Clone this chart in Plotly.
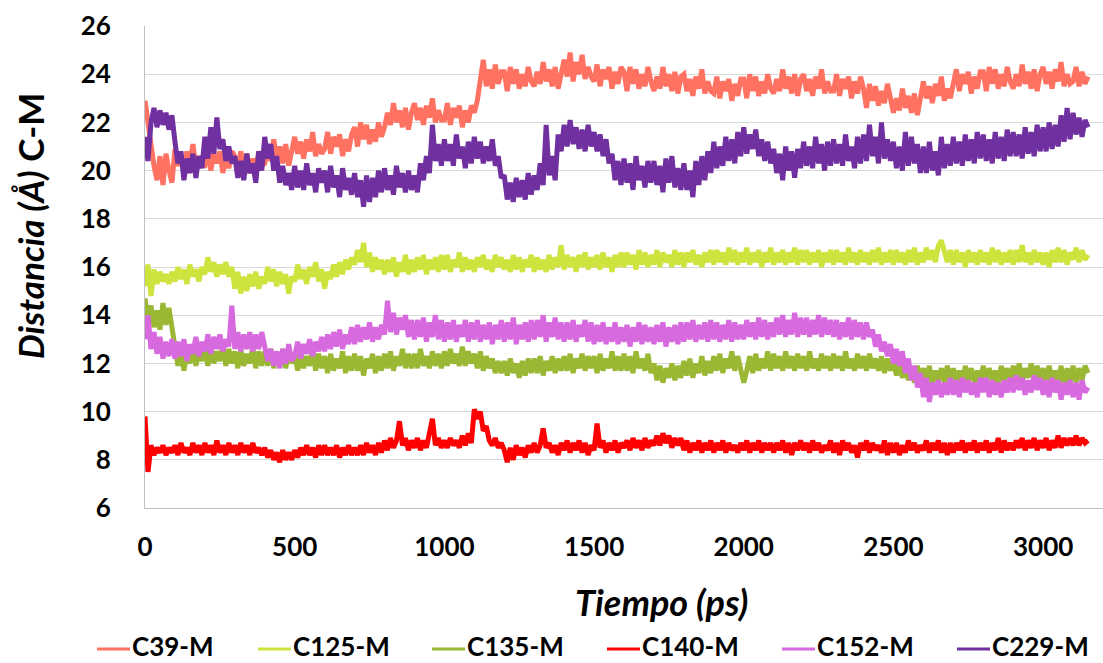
import plotly.graph_objects as go

# ---------------- data ----------------
step_ps = 10
n_points = 316
tiempo = [i * step_ps for i in range(n_points)]  # sampling grid 0 .. 3150 ps

c39 = [
    22.9, 22.0, 20.8, 20.2, 19.6, 20.6, 19.4, 20.7, 20.0, 19.5,
    20.9, 20.2, 20.7, 20.0, 20.8, 20.3, 21.1, 20.1, 20.6, 20.2,
    20.2, 20.9, 20.0, 20.7, 20.3, 20.8, 19.9, 20.6, 20.1, 20.8,
    20.6, 19.8, 20.8, 20.1, 20.7, 19.9, 20.5, 20.0, 20.8, 20.2,
    20.3, 20.9, 20.4, 21.3, 20.5, 21.0, 20.3, 21.1, 20.2, 20.9,
    21.4, 20.7, 21.2, 20.5, 21.3, 20.8, 21.6, 20.6, 21.1, 20.7,
    20.9, 21.6, 20.7, 21.4, 21.0, 21.5, 20.6, 21.3, 20.8, 21.5,
    21.8, 21.0, 22.0, 21.3, 21.9, 21.1, 21.7, 21.2, 22.0, 21.4,
    21.8, 22.4, 21.9, 22.8, 22.0, 22.5, 21.8, 22.6, 21.7, 22.4,
    22.8, 22.1, 22.6, 21.9, 22.7, 22.2, 23.0, 22.0, 22.5, 22.1,
    22.1, 22.8, 21.9, 22.6, 22.2, 22.7, 21.8, 22.5, 22.0, 22.7,
    22.4, 22.9, 23.9, 24.6, 23.5, 24.2, 23.4, 24.4, 23.6, 24.1,
    24.1, 23.3, 24.3, 23.6, 24.2, 23.4, 24.0, 23.5, 24.3, 23.7,
    23.5, 24.1, 23.6, 24.5, 23.7, 24.2, 23.5, 24.3, 23.4, 24.1,
    24.6, 23.9, 24.9, 23.7, 24.5, 24.0, 24.8, 23.8, 24.3, 23.9,
    23.7, 24.4, 23.5, 24.2, 23.8, 24.3, 23.4, 24.1, 23.6, 24.3,
    24.1, 23.3, 24.3, 23.6, 24.2, 23.4, 24.0, 23.5, 24.3, 23.7,
    23.3, 23.9, 23.4, 24.3, 23.5, 24.0, 23.3, 24.1, 23.2, 23.9,
    24.0, 23.3, 23.8, 23.1, 23.9, 23.4, 24.2, 23.2, 23.7, 23.3,
    23.2, 23.9, 23.0, 23.7, 23.3, 23.8, 22.9, 23.6, 23.1, 23.8,
    23.8, 23.0, 24.0, 23.3, 23.9, 23.1, 23.7, 23.2, 24.0, 23.4,
    23.2, 23.8, 23.3, 24.2, 23.4, 23.9, 23.2, 24.0, 23.1, 23.8,
    24.0, 23.3, 23.8, 23.1, 23.9, 23.4, 24.2, 23.2, 23.7, 23.3,
    23.3, 24.0, 23.1, 23.8, 23.4, 23.9, 23.0, 23.7, 23.2, 23.9,
    23.4, 22.6, 23.6, 22.9, 23.5, 22.7, 23.3, 22.8, 23.6, 23.0,
    22.4, 23.0, 22.5, 23.4, 22.6, 23.1, 22.4, 23.2, 22.3, 23.0,
    23.7, 23.0, 23.5, 22.8, 23.6, 23.1, 23.9, 22.9, 23.4, 23.0,
    23.5, 24.2, 23.3, 24.0, 23.6, 24.1, 23.2, 23.9, 23.4, 24.1,
    24.1, 23.3, 24.3, 23.6, 24.2, 23.4, 24.0, 23.5, 24.3, 23.7,
    23.4, 24.0, 23.5, 24.4, 23.6, 24.1, 23.4, 24.2, 23.3, 24.0,
    24.3, 23.6, 24.1, 23.4, 24.2, 23.7, 24.5, 23.5, 24.0, 23.6,
    23.7, 24.3, 23.5, 24.1, 23.6, 23.9,
]

c125 = [
    15.2, 16.1, 14.8, 15.9, 15.3, 15.8, 15.4, 15.7, 15.3, 15.8,
    15.4, 16.0, 15.5, 15.9, 15.3, 16.1, 15.6, 15.9, 15.4, 16.0,
    15.7, 16.4, 15.8, 16.2, 15.6, 16.1, 15.7, 16.2, 15.6, 16.0,
    15.1, 15.8, 14.9, 15.6, 15.0, 15.7, 15.2, 15.8, 15.1, 15.6,
    15.3, 16.0, 15.4, 15.9, 15.2, 15.8, 15.3, 15.7, 14.9, 15.6,
    15.4, 16.1, 15.5, 15.9, 15.3, 16.0, 15.6, 16.2, 15.4, 15.9,
    15.1, 15.8, 15.5, 16.1, 15.6, 16.2, 15.7, 16.3, 15.9, 16.4,
    16.1, 16.7, 16.2, 17.0, 16.0, 16.6, 15.8, 16.4, 15.9, 16.3,
    15.7, 16.3, 15.8, 16.4, 15.6, 16.2, 15.8, 16.5, 15.7, 16.3,
    15.8, 16.4, 15.9, 16.5, 15.7, 16.3, 15.9, 16.4, 15.8, 16.5,
    15.9, 16.5, 15.8, 16.3, 16.0, 16.6, 15.8, 16.4, 15.9, 16.3,
    15.8, 16.4, 16.0, 16.5, 15.9, 16.3, 15.8, 16.5, 16.0, 16.4,
    15.9, 16.3, 15.8, 16.5, 15.9, 16.4, 15.8, 16.3, 16.0, 16.5,
    15.8, 16.4, 15.9, 16.3, 15.8, 16.5, 15.9, 16.4, 16.0, 16.9,
    15.9, 16.5, 16.0, 16.4, 15.8, 16.5, 16.0, 16.6, 15.9, 16.4,
    16.0, 16.5, 15.9, 16.6, 16.0, 16.4, 15.8, 16.5, 16.0, 16.6,
    16.0, 16.6, 16.1, 16.5, 15.9, 16.7, 16.1, 16.6, 16.0, 16.5,
    16.1, 16.7, 16.0, 16.6, 16.2, 16.5, 16.0, 16.7, 16.1, 16.6,
    16.0, 16.6, 16.2, 16.7, 16.1, 16.5, 16.0, 16.6, 16.2, 16.7,
    16.1, 16.7, 16.2, 16.6, 16.1, 16.8, 16.2, 16.7, 16.1, 16.6,
    16.2, 16.8, 16.1, 16.6, 16.2, 16.7, 16.0, 16.6, 16.2, 16.8,
    16.1, 16.6, 16.2, 16.7, 16.1, 16.6, 16.2, 16.8, 16.1, 16.7,
    16.2, 16.7, 16.1, 16.6, 16.2, 16.7, 16.0, 16.6, 16.2, 16.7,
    16.1, 16.7, 16.2, 16.6, 16.1, 16.8, 16.2, 16.6, 16.1, 16.7,
    16.2, 16.6, 16.1, 16.7, 16.2, 16.8, 16.1, 16.6, 16.2, 16.7,
    16.1, 16.7, 16.2, 16.6, 16.1, 16.7, 16.2, 16.8, 16.1, 16.6,
    16.2, 16.8, 16.3, 16.7, 16.2, 16.9, 17.1, 16.6, 16.2, 16.7,
    16.1, 16.7, 16.2, 16.6, 16.0, 16.7, 16.2, 16.6, 16.1, 16.7,
    16.2, 16.6, 16.1, 16.8, 16.2, 16.7, 16.1, 16.6, 16.2, 16.7,
    16.1, 16.7, 16.2, 16.9, 16.2, 16.6, 16.1, 16.7, 16.2, 16.6,
    16.1, 16.6, 16.0, 16.7, 16.2, 16.8, 16.2, 16.7, 16.1, 16.6,
    16.3, 16.8, 16.2, 16.7, 16.3, 16.5,
]

c135 = [
    14.7, 13.8, 14.4, 13.5, 14.2, 13.4, 14.5, 13.6, 14.3, 13.5,
    12.6, 11.9, 12.5, 11.7, 12.4, 12.0, 12.7, 11.9, 12.5, 12.1,
    12.6, 11.9, 12.7, 12.0, 12.5, 12.1, 12.8, 11.9, 12.6, 12.0,
    12.5, 11.8, 12.6, 11.9, 12.4, 12.0, 12.7, 11.8, 12.5, 11.9,
    12.5, 11.9, 12.6, 11.8, 12.4, 11.9, 12.6, 11.8, 12.5, 12.0,
    12.4, 11.7, 12.5, 11.8, 12.3, 11.9, 12.6, 11.7, 12.4, 11.8,
    12.3, 11.6, 12.4, 11.7, 12.2, 11.8, 12.5, 11.6, 12.3, 11.7,
    12.4, 11.7, 12.3, 11.5, 12.2, 11.8, 12.4, 11.6, 12.3, 11.7,
    12.4, 11.8, 12.5, 11.7, 12.3, 11.9, 12.6, 11.8, 12.4, 11.8,
    12.4, 11.8, 12.6, 11.9, 12.3, 11.8, 12.5, 11.9, 12.4, 11.8,
    12.5, 11.9, 12.6, 12.0, 12.4, 11.9, 12.7, 11.9, 12.5, 12.0,
    12.4, 11.8, 12.5, 11.7, 12.3, 11.8, 12.2, 11.6, 12.1, 11.6,
    12.1, 11.5, 12.2, 11.6, 12.0, 11.4, 12.1, 11.5, 12.2, 11.6,
    12.2, 11.6, 12.3, 11.5, 12.1, 11.7, 12.3, 11.6, 12.2, 11.7,
    12.3, 11.7, 12.4, 11.6, 12.2, 11.8, 12.4, 11.7, 12.3, 11.8,
    12.3, 11.6, 12.4, 11.7, 12.2, 11.8, 12.5, 11.7, 12.3, 11.7,
    12.4, 11.7, 12.3, 11.6, 12.5, 11.8, 12.2, 11.7, 12.4, 11.6,
    12.0, 11.3, 11.9, 11.2, 11.8, 11.4, 12.0, 11.3, 11.9, 11.4,
    12.1, 11.5, 12.2, 11.4, 12.0, 11.6, 12.3, 11.5, 12.1, 11.6,
    12.3, 11.7, 12.4, 11.6, 12.2, 11.8, 12.5, 11.7, 12.3, 11.7,
    11.2, 11.7, 12.3, 11.6, 12.4, 11.7, 12.2, 11.8, 12.5, 11.7,
    12.4, 11.8, 12.3, 11.7, 12.5, 11.8, 12.3, 11.7, 12.4, 11.8,
    12.3, 11.7, 12.5, 11.8, 12.2, 11.7, 12.4, 11.8, 12.3, 11.7,
    12.4, 11.8, 12.3, 11.7, 12.5, 11.8, 12.2, 11.7, 12.4, 11.8,
    12.3, 11.7, 12.4, 11.8, 12.2, 11.7, 12.3, 11.6, 12.2, 11.7,
    12.1, 11.5, 12.0, 11.4, 11.9, 11.3, 11.8, 11.2, 11.9, 11.3,
    11.8, 11.2, 11.9, 11.1, 11.7, 11.3, 11.8, 11.2, 11.9, 11.2,
    11.8, 11.2, 11.7, 11.1, 11.9, 11.3, 11.8, 11.2, 11.7, 11.2,
    11.9, 11.2, 11.8, 11.3, 11.7, 11.1, 11.9, 11.3, 11.8, 11.2,
    11.9, 11.3, 12.0, 11.2, 11.8, 11.4, 12.0, 11.3, 11.9, 11.3,
    11.8, 11.2, 11.9, 11.3, 11.7, 11.2, 11.9, 11.1, 11.8, 11.2,
    11.9, 11.2, 11.8, 11.3, 11.9, 11.6,
]

c140 = [
    9.8, 7.5, 8.6, 8.2, 8.5, 8.3, 8.6, 8.2, 8.5, 8.3,
    8.6, 8.2, 8.7, 8.3, 8.5, 8.2, 8.7, 8.3, 8.6, 8.2,
    8.7, 8.3, 8.6, 8.2, 8.8, 8.3, 8.6, 8.2, 8.7, 8.3,
    8.6, 8.2, 8.7, 8.3, 8.6, 8.2, 8.7, 8.3, 8.5, 8.2,
    8.5, 8.1, 8.4, 8.0, 8.3, 7.9, 8.4, 8.0, 8.3, 8.0,
    8.4, 8.1, 8.5, 8.2, 8.6, 8.2, 8.5, 8.1, 8.6, 8.2,
    8.6, 8.2, 8.5, 8.2, 8.6, 8.1, 8.5, 8.2, 8.6, 8.2,
    8.5, 8.2, 8.6, 8.2, 8.7, 8.3, 8.6, 8.2, 8.7, 8.3,
    8.8, 8.4, 8.9, 8.5, 8.8, 9.6, 8.6, 8.9, 8.4, 8.8,
    8.5, 8.9, 8.4, 8.8, 8.5, 9.0, 9.7, 8.6, 8.9, 8.5,
    8.8, 8.5, 8.9, 8.6, 8.8, 8.5, 9.0, 8.6, 9.1, 8.7,
    10.1, 9.7, 10.0, 9.2, 9.4, 8.8, 8.6, 8.9, 8.5, 8.7,
    8.4, 7.9, 8.5, 8.0, 8.6, 8.2, 8.5, 8.1, 8.6, 8.3,
    8.7, 8.3, 8.6, 9.3, 8.5, 8.7, 8.3, 8.6, 8.2, 8.7,
    8.4, 8.8, 8.3, 8.7, 8.4, 8.8, 8.3, 8.7, 8.2, 8.6,
    8.4, 9.5, 8.5, 8.8, 8.3, 8.7, 8.4, 8.8, 8.3, 8.7,
    8.5, 8.8, 8.4, 8.9, 8.5, 8.8, 8.4, 8.9, 8.5, 8.8,
    8.6, 9.0, 8.6, 9.1, 8.7, 9.0, 8.5, 8.9, 8.6, 8.9,
    8.4, 8.8, 8.3, 8.7, 8.4, 8.8, 8.3, 8.7, 8.4, 8.8,
    8.3, 8.7, 8.4, 8.8, 8.3, 8.7, 8.4, 8.6, 8.3, 8.7,
    8.4, 8.8, 8.3, 8.7, 8.4, 8.8, 8.3, 8.7, 8.4, 8.7,
    8.3, 8.7, 8.4, 8.8, 8.3, 8.7, 8.2, 8.7, 8.4, 8.8,
    8.4, 8.7, 8.3, 8.8, 8.4, 8.7, 8.3, 8.6, 8.4, 8.8,
    8.3, 8.7, 8.2, 8.8, 8.4, 8.7, 8.3, 8.6, 8.1, 8.7,
    8.4, 8.8, 8.3, 8.7, 8.4, 8.6, 8.3, 8.8, 8.2, 8.7,
    8.3, 8.7, 8.2, 8.6, 8.3, 8.8, 8.4, 8.7, 8.3, 8.6,
    8.4, 8.8, 8.3, 8.7, 8.4, 8.8, 8.3, 8.7, 8.2, 8.7,
    8.3, 8.7, 8.4, 8.8, 8.3, 8.7, 8.4, 8.8, 8.3, 8.7,
    8.4, 8.8, 8.3, 8.7, 8.4, 8.9, 8.3, 8.8, 8.4, 8.7,
    8.4, 8.8, 8.5, 8.9, 8.4, 8.8, 8.5, 8.9, 8.4, 8.8,
    8.5, 8.9, 8.4, 8.8, 8.5, 9.0, 8.5, 8.9, 8.6, 8.9,
    8.6, 9.0, 8.6, 8.9, 8.7, 8.8,
]

c152 = [
    13.0, 14.0, 12.6, 13.3, 12.4, 13.1, 12.2, 12.9, 12.3, 13.0,
    12.2, 12.9, 12.3, 13.0, 12.1, 12.8, 12.4, 13.1, 12.3, 12.9,
    12.5, 13.2, 12.4, 13.1, 12.6, 13.2, 12.5, 13.0, 12.7, 14.4,
    12.6, 13.3, 12.5, 13.2, 12.6, 13.3, 12.5, 13.2, 12.6, 13.3,
    12.7, 12.1, 12.6, 11.9, 12.5, 11.8, 12.6, 12.0, 12.8, 12.1,
    12.3, 12.9, 12.2, 12.8, 12.4, 13.0, 12.3, 12.9, 12.5, 13.1,
    12.5, 13.2, 12.6, 13.3, 12.7, 13.4, 12.6, 13.2, 12.8, 13.5,
    12.8, 13.6, 12.9, 13.5, 13.0, 13.7, 12.9, 13.5, 13.0, 13.6,
    13.2, 14.6, 13.3, 14.1, 13.2, 13.9, 13.4, 14.0, 13.1, 13.8,
    13.0, 13.8, 13.1, 13.9, 12.9, 13.7, 13.1, 14.0, 13.0, 13.8,
    12.9, 13.7, 13.0, 13.8, 12.9, 13.6, 13.1, 13.8, 12.9, 13.7,
    13.0, 13.8, 12.9, 13.6, 13.0, 13.7, 12.8, 13.6, 13.0, 13.8,
    12.9, 13.7, 13.0, 13.9, 12.8, 13.6, 13.0, 13.7, 12.9, 13.8,
    13.0, 13.8, 13.1, 14.0, 12.9, 13.7, 13.1, 13.9, 13.0, 13.7,
    12.9, 13.7, 13.0, 13.8, 12.9, 13.6, 13.1, 13.8, 12.9, 13.7,
    12.8, 13.6, 12.9, 13.7, 12.8, 13.5, 12.9, 13.7, 12.8, 13.5,
    12.9, 13.6, 12.7, 13.5, 12.9, 13.7, 12.8, 13.6, 12.9, 13.5,
    12.8, 13.6, 12.9, 13.7, 12.7, 13.5, 12.9, 13.6, 12.8, 13.7,
    12.9, 13.7, 13.0, 13.8, 12.9, 13.6, 13.0, 13.7, 12.9, 13.8,
    13.0, 13.7, 12.9, 13.6, 13.0, 13.8, 12.9, 13.7, 13.0, 13.6,
    13.0, 13.8, 13.1, 13.7, 13.0, 13.9, 13.1, 13.8, 13.0, 13.7,
    13.1, 13.9, 13.2, 14.0, 13.1, 13.8, 13.2, 14.1, 13.1, 13.9,
    13.2, 13.9, 13.1, 13.8, 13.2, 14.0, 13.1, 13.9, 13.2, 13.8,
    13.1, 13.8, 13.0, 13.7, 13.1, 13.9, 13.0, 13.8, 13.1, 13.7,
    13.0, 13.7, 13.1, 13.4, 12.7, 13.2, 12.5, 12.9, 12.3, 12.8,
    12.0, 12.6, 11.9, 12.5, 11.6, 12.2, 11.3, 11.9, 11.0, 11.6,
    10.6, 11.4, 10.4, 11.2, 10.7, 11.3, 10.6, 11.2, 10.7, 11.4,
    10.7, 11.3, 10.6, 11.4, 10.8, 11.3, 10.7, 11.2, 10.6, 11.4,
    10.8, 11.4, 10.6, 11.3, 10.7, 11.2, 10.6, 11.3, 10.8, 11.4,
    10.8, 11.5, 10.9, 11.4, 10.7, 11.3, 10.8, 11.5, 10.9, 11.4,
    10.7, 11.3, 10.6, 11.4, 10.8, 11.3, 10.5, 11.2, 10.7, 11.3,
    10.6, 11.2, 10.5, 11.3, 10.8, 11.0,
]

c229 = [
    21.4, 20.4, 22.0, 22.6, 21.8, 22.5, 21.9, 22.4, 21.7, 22.3,
    21.2, 20.3, 20.8, 19.6, 20.5, 19.9, 20.7, 19.7, 20.6, 20.1,
    21.4, 20.5, 21.8, 20.7, 22.2, 20.9, 21.3, 20.4, 21.0, 20.3,
    20.6, 19.7, 20.4, 19.6, 20.7, 19.9, 20.3, 19.5, 20.8, 20.0,
    21.4, 20.5, 21.1, 20.0, 20.6, 19.5, 20.2, 19.4, 19.9, 19.2,
    20.2, 19.3, 20.0, 19.2, 20.3, 19.4, 19.9, 19.1, 20.1, 19.5,
    20.0, 19.1, 20.2, 19.3, 19.8, 18.9, 20.1, 19.2, 19.7, 19.0,
    19.9, 18.9, 19.6, 18.5, 19.8, 18.7, 19.7, 18.9, 20.0, 19.1,
    20.1, 19.2, 19.8, 19.0, 20.2, 19.3, 19.9, 19.1, 20.0, 19.2,
    19.8, 19.1, 20.3, 19.6, 20.6, 19.9, 21.9, 20.4, 21.1, 20.2,
    21.3, 20.4, 21.1, 20.2, 21.5, 20.5, 21.0, 20.1, 21.2, 20.3,
    21.4, 20.5, 21.2, 20.3, 21.0, 20.4, 21.3, 20.2, 20.6, 19.7,
    19.8, 18.8, 19.5, 18.7, 19.7, 18.9, 19.6, 18.8, 19.9, 19.0,
    19.8, 19.2, 20.3, 19.4, 21.9, 19.8, 20.6, 19.6, 21.5, 20.8,
    21.9, 21.0, 22.1, 21.1, 21.8, 20.9, 21.7, 20.8, 21.9, 21.0,
    21.6, 20.8, 21.5, 20.6, 21.3, 20.3, 20.7, 19.6, 20.4, 19.4,
    20.5, 19.5, 20.3, 19.2, 20.6, 19.6, 20.2, 19.3, 20.4, 19.5,
    20.4, 19.4, 20.2, 19.1, 20.5, 19.5, 20.6, 19.3, 20.1, 19.2,
    20.3, 19.2, 20.0, 18.9, 20.4, 19.4, 20.6, 19.6, 20.8, 19.9,
    21.2, 20.1, 21.0, 20.2, 21.4, 20.4, 21.3, 20.3, 21.6, 20.6,
    21.8, 20.7, 21.5, 20.9, 21.7, 20.6, 21.3, 20.4, 21.2, 20.3,
    20.9, 19.9, 20.7, 19.6, 21.0, 20.0, 20.8, 19.7, 20.9, 20.1,
    21.2, 20.2, 21.0, 20.1, 21.4, 20.3, 21.1, 20.0, 21.2, 20.2,
    21.3, 20.3, 21.1, 20.2, 21.5, 20.4, 21.0, 20.1, 21.4, 20.3,
    21.5, 20.4, 21.9, 20.6, 21.4, 20.3, 22.0, 20.5, 21.3, 20.4,
    21.2, 20.1, 21.0, 20.0, 21.6, 20.2, 21.4, 20.3, 21.1, 19.9,
    21.0, 19.9, 21.2, 20.0, 20.8, 19.8, 21.4, 20.1, 21.1, 20.2,
    21.4, 20.3, 21.2, 20.2, 21.5, 20.4, 21.3, 20.3, 21.6, 20.5,
    21.5, 20.4, 21.3, 20.3, 21.6, 20.5, 21.4, 20.4, 21.7, 20.6,
    21.6, 20.6, 21.5, 20.5, 21.8, 20.7, 21.6, 20.6, 21.9, 20.8,
    21.8, 20.8, 22.0, 20.9, 21.9, 21.0, 22.3, 21.2, 22.6, 21.3,
    22.4, 21.5, 22.2, 21.4, 22.1, 21.8,
]

series_names = ["C39-M", "C125-M", "C135-M", "C140-M", "C152-M", "C229-M"]
series_values = [c39, c125, c135, c140, c152, c229]
series_colors = ["#FF7262", "#CFE33F", "#9BB834", "#FF0000", "#D86AE0", "#7030A0"]

y_ticks = [6, 8, 10, 12, 14, 16, 18, 20, 22, 24, 26]
x_ticks = [0, 500, 1000, 1500, 2000, 2500, 3000]

# ---------------- figure ----------------
W, H = 1103, 663
ML, MR, MT, MB = 145, 0, 26, 155
PW, PH = W - ML - MR, H - MT - MB
FONT = "Lato"

def px_x(px):
    return (px - ML) / PW

def px_y(py):
    return (H - MB - py) / PH

fig = go.Figure()
for name, vals, col in zip(series_names, series_values, series_colors):
    assert len(vals) == len(tiempo), (name, len(vals))
    fig.add_trace(go.Scatter(
        x=tiempo, y=vals, mode="lines", name=name,
        line=dict(color=col, width=5), showlegend=False,
        hoverinfo="skip",
    ))

fig.update_layout(
    width=W, height=H,
    margin=dict(l=ML, r=MR, t=MT, b=MB),
    paper_bgcolor="white", plot_bgcolor="white",
    font=dict(family=FONT, size=26, color="black", weight=700),
)
fig.update_xaxes(
    range=[0, 3200], tickvals=x_ticks, ticktext=[str(v) for v in x_ticks],
    showgrid=False, zeroline=False,
    showline=True, linecolor="#BFBFBF", linewidth=1,
    ticks="", ticklabelstandoff=16,
    tickfont=dict(family=FONT, size=26, color="black", weight=700),
)
fig.update_yaxes(
    range=[6, 26], tickvals=y_ticks, ticktext=[str(v) for v in y_ticks],
    showgrid=True, gridcolor="#D9D9D9", gridwidth=1, zeroline=False,
    showline=True, linecolor="#BFBFBF", linewidth=1,
    ticks="", ticklabelstandoff=28,
    tickfont=dict(family=FONT, size=26, color="black", weight=700),
)

# axis titles
fig.add_annotation(
    text="<i>Distancia (Å)</i> C-M", textangle=-90,
    xref="paper", yref="paper", x=px_x(30), y=px_y(226),
    xanchor="center", yanchor="middle", showarrow=False,
    font=dict(family=FONT, size=35, color="black", weight=700),
)
fig.add_annotation(
    text="<i>Tiempo (ps)</i>",
    xref="paper", yref="paper", x=px_x(661), y=px_y(602),
    xanchor="center", yanchor="middle", showarrow=False,
    font=dict(family=FONT, size=36, color="black", weight=700),
)

# legend (drawn manually to match the original spacing)
legend_line_x = [97, 258, 432, 607, 782, 957]
legend_line_y = 649
legend_text_y = 646
for name, col, lx in zip(series_names, series_colors, legend_line_x):
    fig.add_shape(
        type="line", xref="paper", yref="paper",
        x0=px_x(lx), x1=px_x(lx + 33),
        y0=px_y(legend_line_y), y1=px_y(legend_line_y),
        line=dict(color=col, width=3),
    )
    fig.add_annotation(
        text=name, xref="paper", yref="paper",
        x=px_x(lx + 34), y=px_y(legend_text_y), xanchor="left", yanchor="middle",
        borderpad=0, showarrow=False,
        font=dict(family=FONT, size=26, color="black", weight=700),
    )

fig.write_html("out.html")
